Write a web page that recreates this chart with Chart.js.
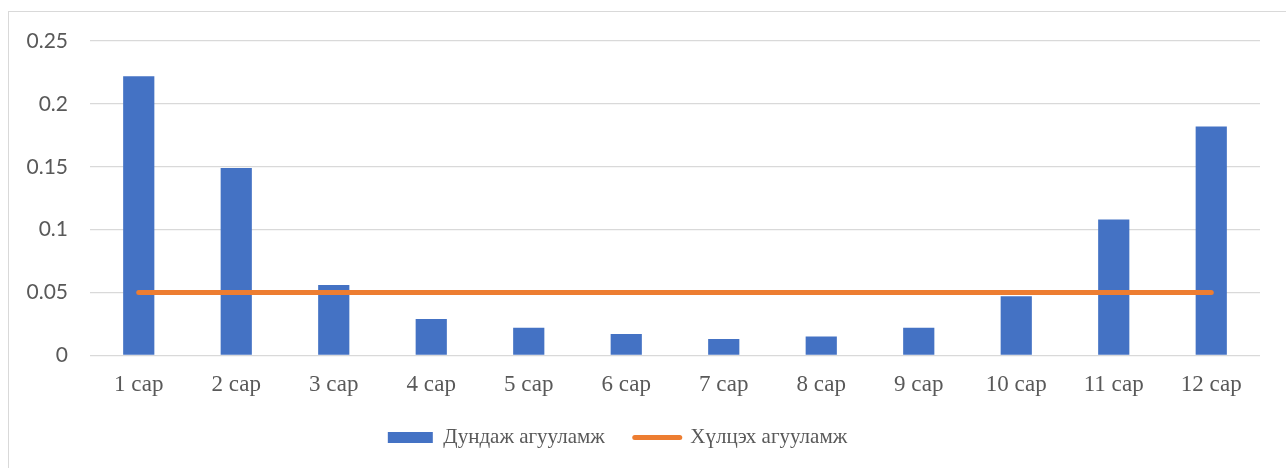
<!DOCTYPE html>
<html>
<head>
<meta charset="utf-8">
<script src="https://cdn.jsdelivr.net/npm/chart.js@4/dist/chart.umd.min.js"></script>
<style>
  html, body { margin: 0; padding: 0; background: #fff; overflow: hidden; }
  #card { position: absolute; left: 8px; top: 11px; width: 1290px; height: 470px; border: 1px solid #d9d9d9; box-sizing: border-box; }
  #chart { display: block; }
</style>
</head>
<body>
<div id="card"><canvas id="chart" width="1288" height="468"></canvas></div>
<script>
// Data
const months = ['1 сар', '2 сар', '3 сар', '4 сар', '5 сар', '6 сар', '7 сар', '8 сар', '9 сар', '10 сар', '11 сар', '12 сар'];
const avgValues = [0.222, 0.149, 0.056, 0.029, 0.022, 0.017, 0.013, 0.015, 0.022, 0.047, 0.108, 0.182];
const limitValues = [0.05, 0.05, 0.05, 0.05, 0.05, 0.05, 0.05, 0.05, 0.05, 0.05, 0.05, 0.05];
const yTicks = [0, 0.05, 0.1, 0.15, 0.2, 0.25];

const serif = '"Liberation Serif", "Times New Roman", serif';
const sans = 'Lato, "Liberation Sans", sans-serif';

// nudge the legend a bit left and up, like the original
const legendShift = {
    id: 'legendShift',
    afterLayout(chart) {
        const lg = chart.legend;
        lg.left -= 17;
        lg.right -= 17;
        lg.top -= 10;
        lg.bottom -= 10;
    }
};

const ctx = document.getElementById('chart').getContext('2d');
new Chart(ctx, {
    data: {
        labels: months,
        datasets: [
            {
                type: 'line',
                label: 'Хүлцэх агууламж',
                data: limitValues,
                borderColor: '#ED7D31',
                backgroundColor: '#ED7D31',
                borderWidth: 5,
                borderCapStyle: 'round',
                pointRadius: 0,
                fill: false,
                order: 1
            },
            {
                type: 'bar',
                label: 'Дундаж агууламж',
                data: avgValues,
                backgroundColor: '#4472C4',
                borderWidth: 0,
                barPercentage: 0.32,
                categoryPercentage: 1,
                order: 2
            }
        ]
    },
    plugins: [legendShift],
    options: {
        responsive: false,
        animation: false,
        layout: {
            padding: { left: 0, right: 37, top: 0, bottom: 12 }
        },
        plugins: {
            tooltip: { enabled: false },
            legend: {
                position: 'bottom',
                reverse: true,
                labels: {
                    usePointStyle: true,
                    pointStyleWidth: 45,
                    boxHeight: 11,
                    padding: 30,
                    color: '#595959',
                    font: { family: serif, size: 21 },
                    generateLabels: function (chart) {
                        const items = Chart.defaults.plugins.legend.labels.generateLabels(chart);
                        items.forEach(function (it) {
                            const ds = chart.data.datasets[it.datasetIndex];
                            if (ds.type === 'line') {
                                it.pointStyle = 'line';
                                it.lineWidth = 5;
                                it.lineCap = 'round';
                                it.strokeStyle = '#ED7D31';
                            } else {
                                it.pointStyle = 'rect';
                                it.lineWidth = 0;
                            }
                        });
                        return items;
                    }
                }
            }
        },
        scales: {
            x: {
                grid: { display: false },
                border: { display: false },
                ticks: {
                    color: '#595959',
                    padding: 8,
                    font: { family: serif, size: 23 }
                }
            },
            y: {
                min: 0,
                max: 0.25,
                afterBuildTicks: function (scale) {
                    scale.ticks = yTicks.map(v => ({ value: v }));
                },
                afterFit: function (scale) {
                    scale.width = 81;
                    scale.paddingTop = 29;
                },
                grid: { color: '#d9d9d9', lineWidth: 1.3, drawTicks: false },
                border: { display: false },
                ticks: {
                    color: '#595959',
                    padding: 22,
                    font: { family: sans, size: 21, lineHeight: 1 },
                    callback: v => String(v)
                }
            }
        }
    }
});
</script>
</body>
</html>
